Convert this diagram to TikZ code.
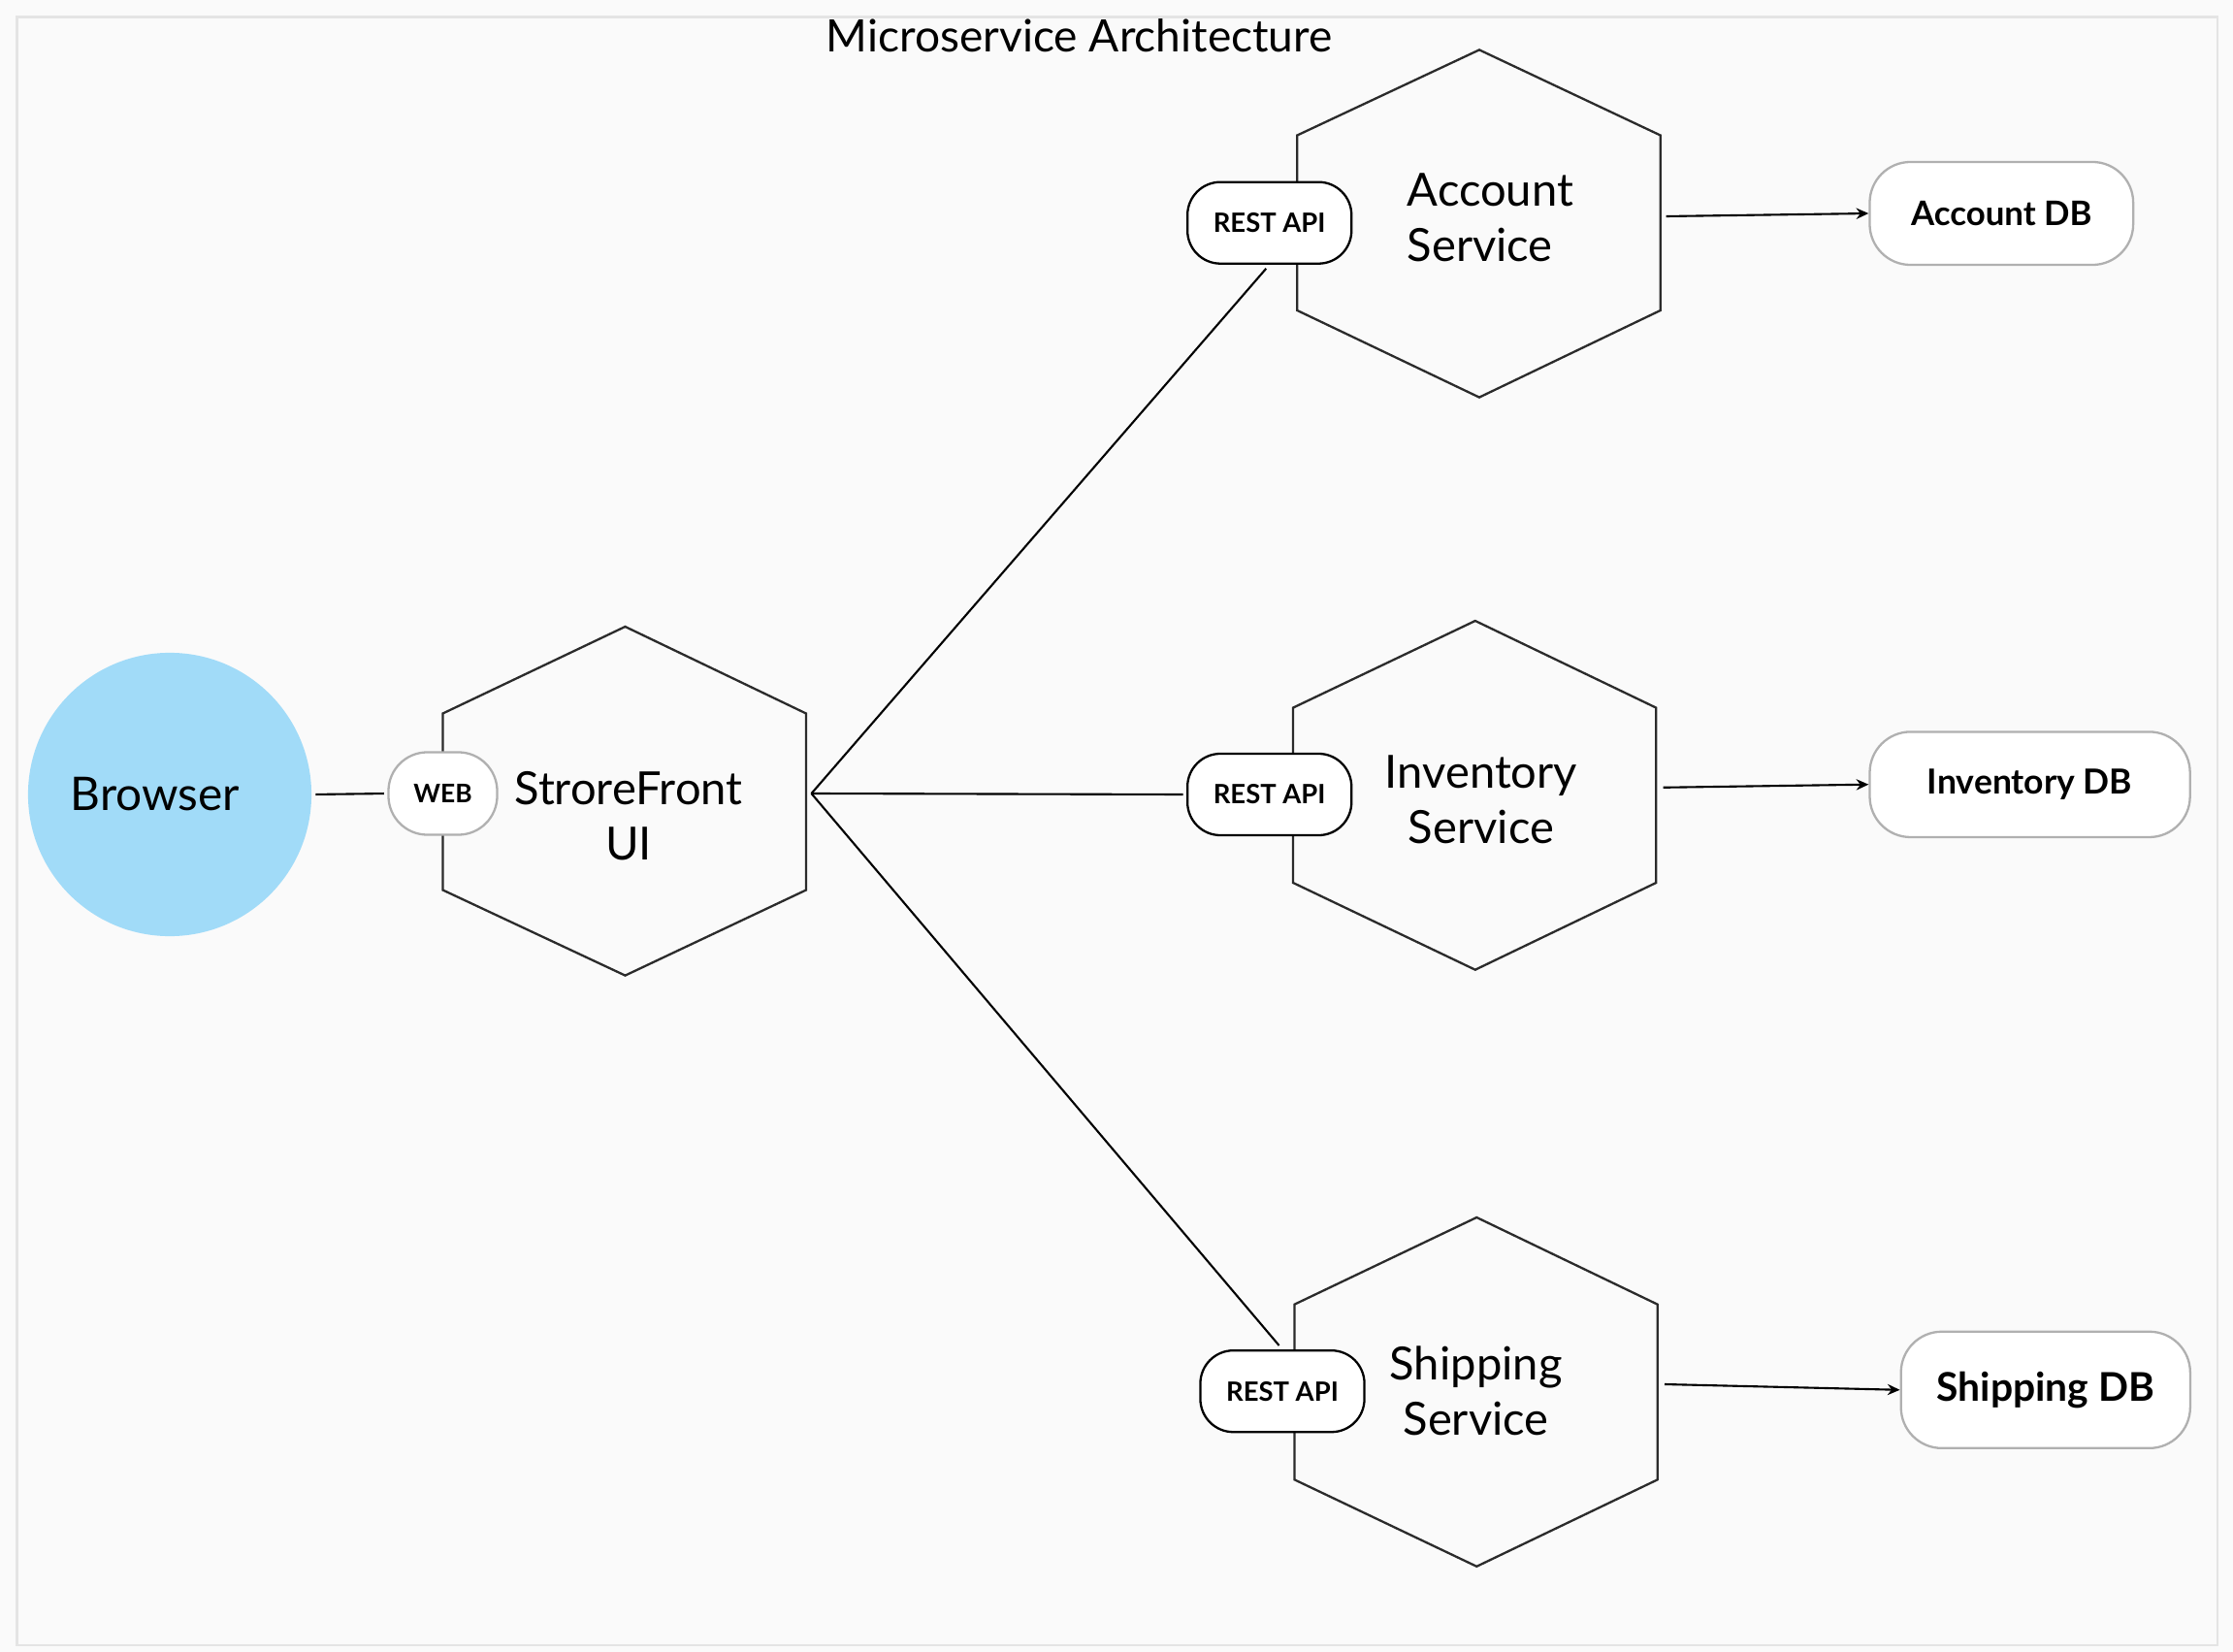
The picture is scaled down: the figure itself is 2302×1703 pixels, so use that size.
\documentclass[tikz,border=0pt]{standalone}
\usepackage{fontspec}
\setmainfont{Lato}
\usetikzlibrary{arrows.meta}
\definecolor{bg}{HTML}{FAFAFA}
\definecolor{framegray}{HTML}{E4E4E4}
\definecolor{browserblue}{HTML}{A1DBF8}
\definecolor{pillgray}{HTML}{B0B0B0}
\definecolor{hexline}{HTML}{2B2B2B}
\begin{document}
\begin{tikzpicture}[x=0.01cm,y=-0.01cm,
  hexa/.style={draw=hexline,line width=0.65pt,fill=bg},
  apipill/.style={draw=black,line width=0.65pt,fill=white,rounded corners=0.34cm,
    minimum width=1.69cm,minimum height=0.84cm,inner sep=0pt,
    font=\fontsize{7.8pt}{9pt}\selectfont\bfseries},
  webpill/.style={draw=pillgray,line width=0.65pt,fill=white,rounded corners=0.4cm,
    minimum width=1.12cm,minimum height=0.85cm,inner sep=0pt,
    font=\fontsize{7.5pt}{9pt}\selectfont\bfseries},
  dbbox/.style={draw=pillgray,line width=0.65pt,fill=white,rounded corners=0.42cm,
    inner sep=0pt,font=\fontsize{9.9pt}{11pt}\selectfont\bfseries},
  svclabel/.style={font=\fontsize{13.4pt}{16.3pt}\selectfont,inner sep=0pt},
  conn/.style={draw=black,line width=0.6pt},
  arr/.style={draw=black,line width=0.6pt,-{Stealth[length=3.6pt,width=3.2pt]}}
]
\useasboundingbox (0,0) rectangle (2302,1703);
\fill[bg] (0,0) rectangle (2302,1703);
\draw[framegray,line width=0.8pt] (17.6,17.6) rectangle (2286,1696);

\node[font=\fontsize{13.1pt}{15pt}\selectfont,inner sep=0pt] (title) at (1112.7,36.7) {Microservice Architecture};

% Browser
\node[circle,fill=browserblue,minimum size=2.92cm,inner sep=0pt] (browser) at (175,819) {};
\node[font=\fontsize{13.6pt}{16pt}\selectfont,inner sep=0pt] (browsertext) at (160,819) {Browser};

% StoreFront hexagon
\draw[hexa] (644.5,646) -- (831,735.5) -- (831,917.5) -- (644.5,1005.6) -- (456.5,917.5) -- (456.5,735.5) -- cycle;
\coordinate (sfR) at (836.5,818);
\node[svclabel,align=center] (sf) at (648,841) {StroreFront\\UI};
\node[webpill] (web) at (456.5,818) {WEB};

% Account hexagon
\draw[hexa] (1525,51.4) -- (1711.7,139.5) -- (1711.7,320) -- (1525,409.6) -- (1337.3,320) -- (1337.3,139.5) -- cycle;
\node[svclabel,align=left,anchor=west] (acc) at (1450,224) {Account\\Service};
\node[apipill] (apiA) at (1308.7,229.7) {REST API};
\coordinate (accR) at (1717.6,223);
\node[dbbox,minimum width=2.715cm,minimum height=1.06cm] (dbA) at (2063.3,220) {Account DB};

% Inventory hexagon
\draw[hexa] (1520.8,640) -- (1707.3,729.6) -- (1707.3,910) -- (1520.8,999.7) -- (1333,910) -- (1333,729.6) -- cycle;
\node[svclabel,align=center] (inv) at (1527,824.5) {Inventory\\Service};
\node[apipill] (apiI) at (1308.7,819) {REST API};
\coordinate (invR) at (1714.6,811.8);
\node[dbbox,minimum width=3.3cm,minimum height=1.085cm,font=\fontsize{10.1pt}{11pt}\selectfont\bfseries] (dbI) at (2092.6,808.7) {Inventory DB};

% Shipping hexagon
\draw[hexa] (1522.3,1255) -- (1708.8,1344.7) -- (1708.8,1525.3) -- (1522.3,1614.8) -- (1334.4,1525.3) -- (1334.4,1344.7) -- cycle;
\node[svclabel,align=center] (shp) at (1521.6,1433.5) {Shipping\\Service};
\node[apipill] (apiS) at (1322,1434.2) {REST API};
\coordinate (shpR) at (1716,1427);
\node[dbbox,minimum width=2.98cm,minimum height=1.2cm,font=\fontsize{11.6pt}{13pt}\selectfont\bfseries] (dbS) at (2108.8,1432.8) {Shipping DB};

% connectors
\draw[conn,shorten <=1pt,shorten >=1pt] (browser.east) -- (web.west);
\draw[conn,shorten >=1.5pt] (sfR) -- (apiA.south);
\draw[conn,shorten >=1pt] (sfR) -- (apiI.west);
\draw[conn,shorten >=1.5pt] (sfR) -- (apiS.north);
\draw[arr] (accR) -- (dbA.west);
\draw[arr] (invR) -- (dbI.west);
\draw[arr] (shpR) -- (dbS.west);
\end{tikzpicture}
\end{document}
